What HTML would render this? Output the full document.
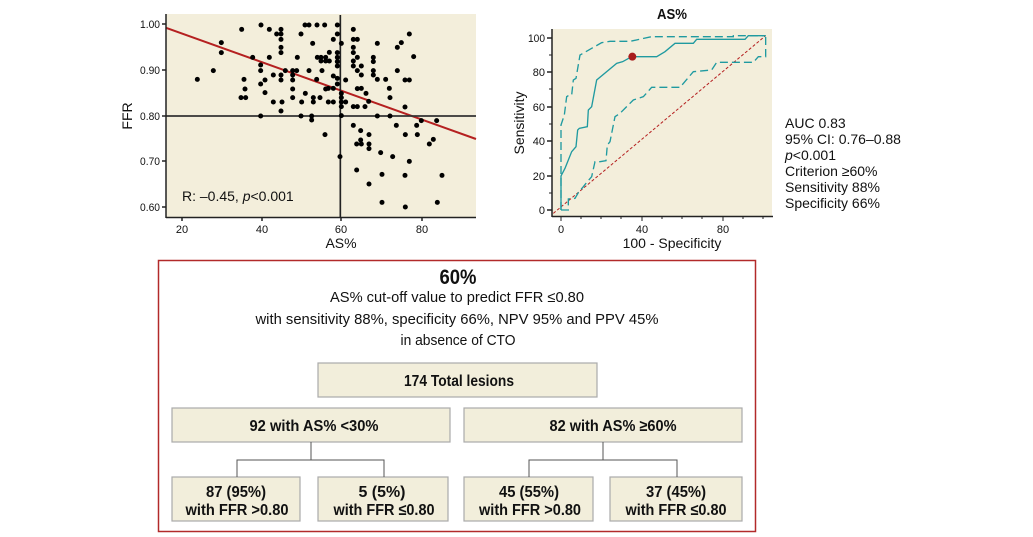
<!DOCTYPE html>
<html><head><meta charset="utf-8"><style>
html,body{margin:0;padding:0;background:#fff;}
svg{display:block;}
text{font-family:"Liberation Sans",sans-serif;fill:#111;}
</style></head><body>
<svg width="1033" height="537" viewBox="0 0 1033 537" xmlns="http://www.w3.org/2000/svg">
<!-- Scatter -->
<rect x="166" y="14" width="310" height="203" fill="#f3eedb"/>
<g transform="translate(120,0) scale(0.33333)">
<line x1="137" y1="83" x2="1068" y2="417" stroke="#b52020" stroke-width="6"/>
<line x1="661" y1="45" x2="661" y2="653" stroke="#222" stroke-width="5"/>
<line x1="137" y1="348" x2="1068" y2="348" stroke="#333" stroke-width="5"/>
<g fill="#000">
<circle cx="232" cy="238" r="7.5"/><circle cx="280" cy="212" r="7.5"/><circle cx="304" cy="128" r="7.5"/><circle cx="304" cy="158" r="7.5"/><circle cx="365" cy="88" r="7.5"/><circle cx="372" cy="238" r="7.5"/><circle cx="363" cy="293" r="7.5"/><circle cx="377" cy="293" r="7.5"/><circle cx="375" cy="267" r="7.5"/><circle cx="398" cy="172" r="7.5"/><circle cx="423" cy="75" r="7.5"/><circle cx="422" cy="195" r="7.5"/><circle cx="422" cy="212" r="7.5"/><circle cx="422" cy="252" r="7.5"/><circle cx="422" cy="348" r="7.5"/><circle cx="435" cy="240" r="7.5"/><circle cx="435" cy="278" r="7.5"/><circle cx="448" cy="88" r="7.5"/><circle cx="448" cy="172" r="7.5"/><circle cx="460" cy="225" r="7.5"/><circle cx="460" cy="306" r="7.5"/><circle cx="470" cy="102" r="7.5"/><circle cx="483" cy="88" r="7.5"/><circle cx="483" cy="102" r="7.5"/><circle cx="483" cy="118" r="7.5"/><circle cx="483" cy="142" r="7.5"/><circle cx="483" cy="158" r="7.5"/><circle cx="483" cy="225" r="7.5"/><circle cx="483" cy="240" r="7.5"/><circle cx="483" cy="333" r="7.5"/><circle cx="486" cy="306" r="7.5"/><circle cx="496" cy="212" r="7.5"/><circle cx="518" cy="212" r="7.5"/><circle cx="518" cy="225" r="7.5"/><circle cx="518" cy="240" r="7.5"/><circle cx="518" cy="267" r="7.5"/><circle cx="518" cy="293" r="7.5"/><circle cx="530" cy="212" r="7.5"/><circle cx="532" cy="172" r="7.5"/><circle cx="543" cy="102" r="7.5"/><circle cx="545" cy="306" r="7.5"/><circle cx="543" cy="348" r="7.5"/><circle cx="555" cy="75" r="7.5"/><circle cx="567" cy="75" r="7.5"/><circle cx="567" cy="212" r="7.5"/><circle cx="556" cy="280" r="7.5"/><circle cx="578" cy="130" r="7.5"/><circle cx="580" cy="293" r="7.5"/><circle cx="580" cy="306" r="7.5"/><circle cx="591" cy="75" r="7.5"/><circle cx="592" cy="172" r="7.5"/><circle cx="590" cy="238" r="7.5"/><circle cx="600" cy="293" r="7.5"/><circle cx="603" cy="183" r="7.5"/><circle cx="603" cy="172" r="7.5"/><circle cx="606" cy="212" r="7.5"/><circle cx="614" cy="75" r="7.5"/><circle cx="617" cy="183" r="7.5"/><circle cx="617" cy="172" r="7.5"/><circle cx="617" cy="267" r="7.5"/><circle cx="628" cy="157" r="7.5"/><circle cx="628" cy="183" r="7.5"/><circle cx="625" cy="265" r="7.5"/><circle cx="625" cy="306" r="7.5"/><circle cx="640" cy="118" r="7.5"/><circle cx="640" cy="228" r="7.5"/><circle cx="640" cy="265" r="7.5"/><circle cx="640" cy="306" r="7.5"/><circle cx="652" cy="75" r="7.5"/><circle cx="652" cy="102" r="7.5"/><circle cx="652" cy="158" r="7.5"/><circle cx="652" cy="172" r="7.5"/><circle cx="652" cy="185" r="7.5"/><circle cx="652" cy="198" r="7.5"/><circle cx="652" cy="235" r="7.5"/><circle cx="652" cy="252" r="7.5"/><circle cx="664" cy="130" r="7.5"/><circle cx="664" cy="280" r="7.5"/><circle cx="664" cy="293" r="7.5"/><circle cx="664" cy="306" r="7.5"/><circle cx="664" cy="320" r="7.5"/><circle cx="664" cy="347" r="7.5"/><circle cx="677" cy="240" r="7.5"/><circle cx="677" cy="306" r="7.5"/><circle cx="660" cy="470" r="7.5"/><circle cx="615" cy="404" r="7.5"/><circle cx="575" cy="360" r="7.5"/><circle cx="575" cy="348" r="7.5"/><circle cx="700" cy="88" r="7.5"/><circle cx="700" cy="118" r="7.5"/><circle cx="700" cy="142" r="7.5"/><circle cx="700" cy="158" r="7.5"/><circle cx="700" cy="183" r="7.5"/><circle cx="700" cy="198" r="7.5"/><circle cx="712" cy="118" r="7.5"/><circle cx="712" cy="172" r="7.5"/><circle cx="712" cy="212" r="7.5"/><circle cx="712" cy="320" r="7.5"/><circle cx="700" cy="320" r="7.5"/><circle cx="712" cy="266" r="7.5"/><circle cx="724" cy="198" r="7.5"/><circle cx="724" cy="225" r="7.5"/><circle cx="724" cy="265" r="7.5"/><circle cx="722" cy="392" r="7.5"/><circle cx="722" cy="420" r="7.5"/><circle cx="738" cy="280" r="7.5"/><circle cx="735" cy="320" r="7.5"/><circle cx="746" cy="304" r="7.5"/><circle cx="760" cy="172" r="7.5"/><circle cx="760" cy="185" r="7.5"/><circle cx="760" cy="212" r="7.5"/><circle cx="760" cy="225" r="7.5"/><circle cx="772" cy="130" r="7.5"/><circle cx="772" cy="238" r="7.5"/><circle cx="772" cy="348" r="7.5"/><circle cx="700" cy="376" r="7.5"/><circle cx="710" cy="432" r="7.5"/><circle cx="710" cy="510" r="7.5"/><circle cx="724" cy="432" r="7.5"/><circle cx="747" cy="404" r="7.5"/><circle cx="747" cy="432" r="7.5"/><circle cx="747" cy="446" r="7.5"/><circle cx="747" cy="552" r="7.5"/><circle cx="782" cy="458" r="7.5"/><circle cx="786" cy="523" r="7.5"/><circle cx="786" cy="607" r="7.5"/><circle cx="810" cy="293" r="7.5"/><circle cx="810" cy="348" r="7.5"/><circle cx="797" cy="238" r="7.5"/><circle cx="808" cy="265" r="7.5"/><circle cx="818" cy="470" r="7.5"/><circle cx="829" cy="376" r="7.5"/><circle cx="832" cy="142" r="7.5"/><circle cx="844" cy="128" r="7.5"/><circle cx="832" cy="212" r="7.5"/><circle cx="855" cy="240" r="7.5"/><circle cx="868" cy="240" r="7.5"/><circle cx="855" cy="321" r="7.5"/><circle cx="856" cy="404" r="7.5"/><circle cx="855" cy="526" r="7.5"/><circle cx="856" cy="621" r="7.5"/><circle cx="868" cy="102" r="7.5"/><circle cx="868" cy="484" r="7.5"/><circle cx="881" cy="170" r="7.5"/><circle cx="890" cy="376" r="7.5"/><circle cx="892" cy="404" r="7.5"/><circle cx="904" cy="362" r="7.5"/><circle cx="928" cy="432" r="7.5"/><circle cx="940" cy="418" r="7.5"/><circle cx="950" cy="362" r="7.5"/><circle cx="952" cy="607" r="7.5"/><circle cx="966" cy="526" r="7.5"/>
</g>
</g>
<g stroke="#222" stroke-width="1.5">
<line x1="166" y1="14" x2="166" y2="218"/><line x1="166" y1="217.5" x2="476" y2="217.5"/>
<line x1="162" y1="24" x2="166" y2="24"/><line x1="162" y1="70" x2="166" y2="70"/><line x1="162" y1="116" x2="166" y2="116"/><line x1="162" y1="161" x2="166" y2="161"/><line x1="162" y1="207" x2="166" y2="207"/>
<line x1="182" y1="217" x2="182" y2="221"/><line x1="262" y1="217" x2="262" y2="221"/><line x1="341" y1="217" x2="341" y2="221"/><line x1="422" y1="217" x2="422" y2="221"/>
</g>
<g font-size="11" text-anchor="end">
<text x="160" y="28" textLength="20" lengthAdjust="spacingAndGlyphs">1.00</text>
<text x="160" y="74" textLength="20" lengthAdjust="spacingAndGlyphs">0.90</text>
<text x="160" y="120" textLength="20" lengthAdjust="spacingAndGlyphs">0.80</text>
<text x="160" y="165" textLength="20" lengthAdjust="spacingAndGlyphs">0.70</text>
<text x="160" y="211" textLength="20" lengthAdjust="spacingAndGlyphs">0.60</text>
</g>
<g font-size="11" text-anchor="middle">
<text x="182" y="233">20</text><text x="262" y="233">40</text><text x="341" y="233">60</text><text x="422" y="233">80</text>
</g>
<text x="341" y="248" font-size="14" text-anchor="middle">AS%</text>
<text transform="translate(132,116) rotate(-90)" font-size="14" text-anchor="middle">FFR</text>
<text x="182" y="201" font-size="14">R: –0.45, <tspan font-style="italic">p</tspan>&lt;0.001</text>

<!-- ROC -->
<rect x="552" y="29" width="220" height="188" fill="#f3eedb"/>
<g transform="translate(500,0) scale(0.33333)" fill="none">
<line x1="160" y1="640" x2="797" y2="107" stroke="#b52020" stroke-width="3" stroke-dasharray="9,6"/>
<polyline stroke="#1f9aa0" stroke-width="4" points="183,630 183,528 195,505 205,480 215,455 228,440 233,390 238,385 262,380 265,330 275,320 290,240 350,190 368,185 395,170 470,170 495,155 525,130 580,130 590,118 735,118 745,107 797,107"/>
<polyline stroke="#1f9aa0" stroke-width="4" stroke-dasharray="24,12" points="183,630 183,375 193,345 200,290 205,287 215,285 220,240 228,235 240,165 305,128 330,124 390,124 455,110 700,110 700,107 797,107"/>
<polyline stroke="#1f9aa0" stroke-width="4" stroke-dasharray="24,12" points="183,630 205,630 205,597 225,595 235,578 250,560 262,545 275,530 285,485 300,485 318,482 322,435 330,425 345,350 360,340 400,300 430,290 455,262 540,262 580,215 635,210 650,187 760,187 775,170 797,170 797,107"/>
<circle cx="397" cy="170" r="12" fill="#a81c1c"/>
</g>
<g stroke="#222" stroke-width="1.5">
<line x1="552" y1="29" x2="552" y2="217"/><line x1="552" y1="216.5" x2="773" y2="216.5"/>
<line x1="547" y1="38" x2="552" y2="38"/><line x1="547" y1="72" x2="552" y2="72"/><line x1="547" y1="107" x2="552" y2="107"/><line x1="547" y1="141" x2="552" y2="141"/><line x1="547" y1="176" x2="552" y2="176"/><line x1="547" y1="210" x2="552" y2="210"/>
</g>
<g stroke="#222" stroke-width="1">
<line x1="549" y1="55" x2="552" y2="55"/><line x1="549" y1="89" x2="552" y2="89"/><line x1="549" y1="124" x2="552" y2="124"/><line x1="549" y1="158" x2="552" y2="158"/><line x1="549" y1="193" x2="552" y2="193"/>
<line x1="561" y1="216" x2="561" y2="221"/><line x1="581" y1="216" x2="581" y2="219"/><line x1="601" y1="216" x2="601" y2="219"/><line x1="621" y1="216" x2="621" y2="219"/><line x1="642" y1="216" x2="642" y2="221"/><line x1="662" y1="216" x2="662" y2="219"/><line x1="682" y1="216" x2="682" y2="219"/><line x1="702" y1="216" x2="702" y2="219"/><line x1="723" y1="216" x2="723" y2="221"/><line x1="743" y1="216" x2="743" y2="219"/><line x1="763" y1="216" x2="763" y2="219"/>
</g>
<g font-size="11" text-anchor="end">
<text x="545" y="42" textLength="17" lengthAdjust="spacingAndGlyphs">100</text>
<text x="545" y="76">80</text><text x="545" y="111">60</text><text x="545" y="145">40</text><text x="545" y="180">20</text><text x="545" y="214">0</text>
</g>
<g font-size="11" text-anchor="middle">
<text x="561" y="233">0</text><text x="642" y="233">40</text><text x="723" y="233">80</text>
</g>
<text x="672" y="248" font-size="14" text-anchor="middle">100 - Specificity</text>
<text transform="translate(524,123) rotate(-90)" font-size="14" text-anchor="middle">Sensitivity</text>
<text x="672" y="19" font-size="15" font-weight="bold" text-anchor="middle" textLength="30" lengthAdjust="spacingAndGlyphs">AS%</text>
<g font-size="14">
<text x="785" y="128">AUC 0.83</text>
<text x="785" y="144">95% CI: 0.76–0.88</text>
<text x="785" y="160"><tspan font-style="italic">p</tspan>&lt;0.001</text>
<text x="785" y="176">Criterion ≥60%</text>
<text x="785" y="192">Sensitivity 88%</text>
<text x="785" y="208">Specificity 66%</text>
</g>

<!-- Bottom box -->
<rect x="158.5" y="260.5" width="597" height="271" fill="#fff" stroke="#b22a2a" stroke-width="1.5"/>
<text x="458" y="284" font-size="21" font-weight="bold" text-anchor="middle" textLength="37" lengthAdjust="spacingAndGlyphs">60%</text>
<g font-size="15" text-anchor="middle">
<text x="457" y="302" textLength="254" lengthAdjust="spacingAndGlyphs">AS% cut-off value to predict FFR ≤0.80</text>
<text x="457" y="324" textLength="403" lengthAdjust="spacingAndGlyphs">with sensitivity 88%, specificity 66%, NPV 95% and PPV 45%</text>
<text x="458" y="345" textLength="115" lengthAdjust="spacingAndGlyphs">in absence of CTO</text>
</g>
<g fill="#f2eedb" stroke="#aaa" stroke-width="1.2">
<rect x="318" y="363" width="279" height="34"/>
<rect x="172" y="408" width="278" height="34"/>
<rect x="464" y="408" width="278" height="34"/>
<rect x="172" y="477" width="128" height="44"/>
<rect x="318" y="477" width="130" height="44"/>
<rect x="464" y="477" width="129" height="44"/>
<rect x="610" y="477" width="132" height="44"/>
</g>
<g stroke="#555" stroke-width="1" fill="none">
<polyline points="311,442 311,460"/><polyline points="237,477 237,460 384,460 384,477"/>
<polyline points="603,442 603,460"/><polyline points="529,477 529,460 677,460 677,477"/>
</g>
<g font-size="16" font-weight="bold" text-anchor="middle">
<text x="459" y="386" textLength="110" lengthAdjust="spacingAndGlyphs">174 Total lesions</text>
<text x="314" y="431" textLength="129" lengthAdjust="spacingAndGlyphs">92 with AS% &lt;30%</text>
<text x="613" y="431" textLength="127" lengthAdjust="spacingAndGlyphs">82 with AS% ≥60%</text>
<text x="236" y="497" textLength="60" lengthAdjust="spacingAndGlyphs">87 (95%)</text>
<text x="237" y="515" textLength="103" lengthAdjust="spacingAndGlyphs">with FFR &gt;0.80</text>
<text x="382" y="497" textLength="47" lengthAdjust="spacingAndGlyphs">5 (5%)</text>
<text x="384" y="515" textLength="101" lengthAdjust="spacingAndGlyphs">with FFR ≤0.80</text>
<text x="529" y="497" textLength="60" lengthAdjust="spacingAndGlyphs">45 (55%)</text>
<text x="530" y="515" textLength="102" lengthAdjust="spacingAndGlyphs">with FFR &gt;0.80</text>
<text x="676" y="497" textLength="60" lengthAdjust="spacingAndGlyphs">37 (45%)</text>
<text x="676" y="515" textLength="101" lengthAdjust="spacingAndGlyphs">with FFR ≤0.80</text>
</g>
</svg>
</body></html>
